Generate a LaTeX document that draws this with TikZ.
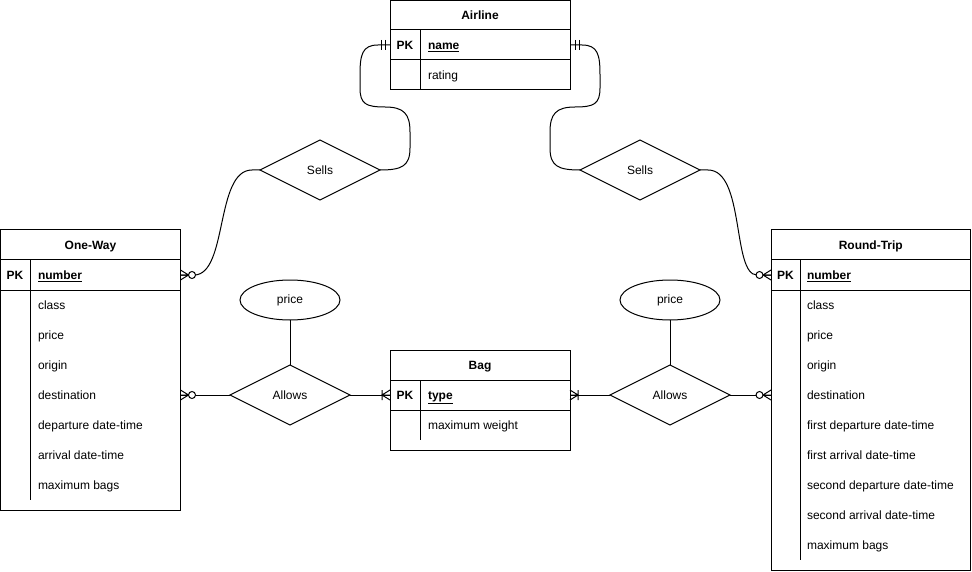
\documentclass[tikz,border=0pt]{standalone}
\usepackage{fontspec}
\setmainfont{Liberation Sans}
\usetikzlibrary{shapes.geometric}
\begin{document}
\begin{tikzpicture}[x=1pt,y=-1pt,line width=1pt,
  every node/.style={font=\fontsize{12}{14}\selectfont,inner sep=0pt,outer sep=0pt},
  tbox/.style={draw,anchor=north west},
  rowbox/.style={minimum height=30pt},
  ttl/.style={anchor=base,font=\fontsize{12}{14}\selectfont\bfseries},
  pkl/.style={anchor=base,font=\fontsize{12}{14}\selectfont\bfseries},
  fld/.style={anchor=base west},
  key/.style={anchor=base west,font=\fontsize{12}{14}\selectfont\bfseries},
  rel/.style={draw,diamond,minimum width=120pt,minimum height=60pt},
  attr/.style={draw,ellipse,minimum width=100pt,minimum height=40pt},
  zeromany/.pic={\draw (0,-5) -- (8,0) -- (0,5) (0,0) -- (8,0);
                 \draw[fill=white] (11.5,0) circle[radius=3.5];},
  onemany/.pic={\draw (0,-5) -- (8,0) -- (0,5) (0,0) -- (8,0) (8,-5) -- (8,5);},
  mandone/.pic={\draw (5,-5) -- (5,5) (9,-5) -- (9,5);}
]
\useasboundingbox (0,0) rectangle (972,572);

% ---------- Airline ----------
\node[tbox,minimum width=180pt,minimum height=89.5pt] (air) at (390,0.5) {};
\draw (390,30) -- (570,30) (390,60) -- (570,60) (420,30) -- (420,90);
\node[ttl] (air-t) at (480,19.5) {Airline};
\node[rowbox,minimum width=180pt] (air-pk) at (480,45) {};
\node[pkl] (air-pkl) at (405,49.5) {PK};
\node[key] (air-name) at (428,49.5) {\underline{name}};
\node[fld] (air-rating) at (428,79.5) {rating};

% ---------- Bag ----------
\node[tbox,minimum width=180pt,minimum height=100pt] (bag) at (390,350) {};
\draw (390,380) -- (570,380) (390,410) -- (570,410) (420,380) -- (420,440);
\node[ttl] (bag-t) at (480,369.5) {Bag};
\node[rowbox,minimum width=180pt] (bag-pk) at (480,395) {};
\node[pkl] (bag-pkl) at (405,399.5) {PK};
\node[key] (bag-type) at (428,399.5) {\underline{type}};
\node[fld] (bag-w) at (428,429.5) {maximum weight};

% ---------- One-Way ----------
\node[tbox,minimum width=180pt,minimum height=280pt] (ow) at (0.5,230) {};
\draw (0.5,260) -- (180.5,260) (0.5,290) -- (180.5,290) (30,260) -- (30,500);
\node[ttl] (ow-t) at (90.5,249.5) {One-Way};
\node[rowbox,minimum width=180pt] (ow-pk) at (90.5,275) {};
\node[rowbox,minimum width=180pt] (ow-dest) at (90.5,395) {};
\node[pkl] (ow-pkl) at (15,279.5) {PK};
\node[key] (ow-num) at (38,279.5) {\underline{number}};
\foreach \t [count=\i] in {class,price,origin,destination,departure date-time,arrival date-time,maximum bags}
  \node[fld] (ow-f\i) at (38,{279.5+30*\i}) {\t};

% ---------- Round-Trip ----------
\node[tbox,minimum width=199.5pt,minimum height=340pt] (rt) at (771,230) {};
\draw (771,260) -- (970.5,260) (771,290) -- (970.5,290) (800,260) -- (800,560);
\node[ttl] (rt-t) at (870.75,249.5) {Round-Trip};
\node[rowbox,minimum width=199.5pt] (rt-pk) at (870.75,275) {};
\node[rowbox,minimum width=199.5pt] (rt-dest) at (870.75,395) {};
\node[pkl] (rt-pkl) at (785.5,279.5) {PK};
\node[key] (rt-num) at (807,279.5) {\underline{number}};
\foreach \t [count=\i] in {class,price,origin,destination,first departure date-time,first arrival date-time,second departure date-time,second arrival date-time,maximum bags}
  \node[fld] (rt-f\i) at (807,{279.5+30*\i}) {\t};

% ---------- Relationships and attributes ----------
\node[rel] (sl) at (320,170) {Sells};
\node[rel] (sr) at (640,170) {Sells};
\node[rel] (al) at (290,395) {Allows};
\node[rel] (ar) at (670,395) {Allows};
\node[attr] (pl) at (290,300) {price};
\node[attr] (pr) at (670,300) {price};

% ---------- Connectors ----------
\draw (air-pk.west) -- (378,45) .. controls (362,45) and (360,55) .. (360,75) -- (360,88)
  .. controls (360,104) and (366,107) .. (385,107) .. controls (404,107) and (410,114) .. (410,132)
  -- (410,148) .. controls (410,166) and (402,170) .. (sl.east);
\draw (air-pk.east) -- (582,45) .. controls (598,45) and (600,55) .. (600,75) -- (600,88)
  .. controls (600,104) and (594,107) .. (575,107) .. controls (556,107) and (550,114) .. (550,132)
  -- (550,148) .. controls (550,166) and (558,170) .. (sr.west);
\draw (sl.west) -- (252,170) .. controls (215,170) and (228,275) .. (194,275) -- (ow-pk.east);
\draw (sr.east) -- (708,170) .. controls (745,170) and (732,275) .. (757,275) -- (rt-pk.west);
\draw (ow-dest.east) -- (al.west);
\draw (al.east) -- (bag-pk.west);
\draw (bag-pk.east) -- (ar.west);
\draw (ar.east) -- (rt-dest.west);
\draw (pl.south) -- (al.north);
\draw (pr.south) -- (ar.north);

% ---------- Markers ----------
\pic[xscale=-1] at (air-pk.west) {mandone};
\pic at (air-pk.east) {mandone};
\pic at (ow-pk.east) {zeromany};
\pic[xscale=-1] at (rt-pk.west) {zeromany};
\pic at (ow-dest.east) {zeromany};
\pic[xscale=-1] at (rt-dest.west) {zeromany};
\pic[xscale=-1] at (bag-pk.west) {onemany};
\pic at (bag-pk.east) {onemany};
\end{tikzpicture}
\end{document}
